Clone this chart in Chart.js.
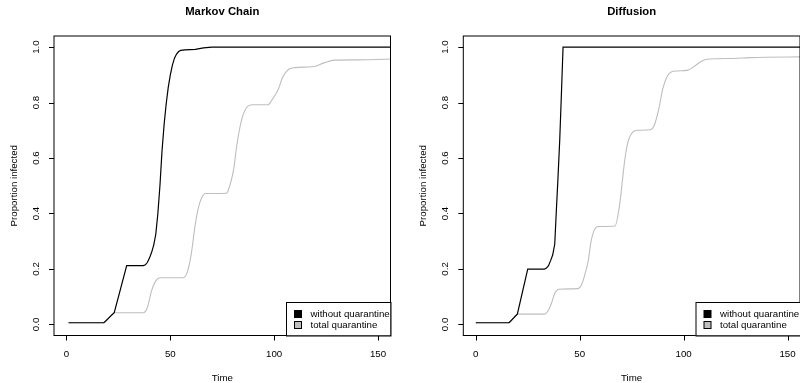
<!DOCTYPE html>
<html>
<head>
<meta charset="utf-8">
<script src="https://cdn.jsdelivr.net/npm/chart.js@4/dist/chart.umd.min.js"></script>
<style>
  html, body { margin: 0; padding: 0; background: #fff; overflow: hidden; }
  #wrap { position: relative; width: 800px; height: 383px; overflow: hidden; }
  canvas { position: absolute; top: 0; }
  #left { left: 0; }
  #right { left: 400px; }
</style>
</head>
<body>
<div id="wrap">
  <canvas id="left" width="400" height="383"></canvas>
  <canvas id="right" width="402" height="383"></canvas>
</div>
<script>
// Markov chain panel
const markovTimeWithout = [1, 18, 23, 29, 37, 38, 39, 40, 41, 42, 43, 44, 45, 46, 47, 48, 49, 50, 51, 52, 53, 54, 55, 57, 62, 66, 70, 160];
const markovWithout = [0.006, 0.006, 0.042, 0.212, 0.212, 0.215, 0.224, 0.24, 0.26, 0.286, 0.325, 0.4, 0.5, 0.625, 0.72, 0.795, 0.855, 0.9, 0.935, 0.96, 0.975, 0.984, 0.988, 0.99, 0.992, 0.997, 1.0, 1.0];
const markovTimeTotal = [1, 18, 23, 37, 39, 41, 43, 45, 56, 58, 60, 62, 63.5, 65, 67, 77, 79, 80.5, 82, 83.5, 85, 87.5, 90, 97, 99, 102, 104, 107, 110, 119, 124, 129, 140, 160];
const markovTotal = [0.006, 0.006, 0.042, 0.042, 0.062, 0.122, 0.157, 0.168, 0.168, 0.185, 0.25, 0.36, 0.42, 0.455, 0.472, 0.473, 0.51, 0.56, 0.645, 0.71, 0.755, 0.788, 0.792, 0.792, 0.81, 0.848, 0.89, 0.92, 0.926, 0.93, 0.943, 0.953, 0.954, 0.958];

// Diffusion panel
const diffusionTimeWithout = [0, 16, 20, 25, 33, 34, 35, 36, 37, 38, 38.7, 39.5, 40.4, 41.2, 42, 160];
const diffusionWithout = [0.006, 0.006, 0.037, 0.199, 0.199, 0.203, 0.212, 0.23, 0.25, 0.29, 0.4, 0.52, 0.665, 0.83, 1.0, 1.0];
const diffusionTimeTotal = [0, 16, 20, 33, 35, 36.5, 38, 40, 49, 51, 52.5, 54, 55.5, 57, 59, 67, 69, 70, 71, 72, 73.5, 75.5, 78, 84, 86, 88, 90, 92, 94, 97, 102, 105, 108, 111, 124, 132, 160];
const diffusionTotal = [0.006, 0.006, 0.037, 0.037, 0.052, 0.078, 0.112, 0.127, 0.129, 0.145, 0.18, 0.225, 0.3, 0.34, 0.353, 0.355, 0.42, 0.48, 0.55, 0.61, 0.665, 0.693, 0.7, 0.702, 0.72, 0.775, 0.85, 0.893, 0.91, 0.914, 0.917, 0.93, 0.946, 0.956, 0.959, 0.962, 0.965];

const seriesLabels = ['without quarantine', 'total quarantine'];
const seriesColors = ['#000000', '#bebebe'];
const xTicks = [0, 50, 100, 150];
const yTicks = [0, 0.2, 0.4, 0.6, 0.8, 1.0];
const yTickLabels = ['0.0', '0.2', '0.4', '0.6', '0.8', '1.0'];

const FONT = '"Liberation Sans", Arial, Helvetica, sans-serif';

function toPoints(times, vals) {
    return times.map((t, i) => ({ x: t, y: vals[i] }));
}

// R-like box, axes, titles and legend
const rStyle = {
    id: 'rStyle',
    afterDraw(chart, args, opts) {
        const ctx = chart.ctx;
        const a = chart.chartArea;
        const xs = chart.scales.x;
        const ys = chart.scales.y;
        ctx.save();
        ctx.strokeStyle = '#000';
        ctx.fillStyle = '#000';
        ctx.lineWidth = 1;

        // box
        ctx.strokeRect(a.left, a.top, a.right - a.left, a.bottom - a.top);

        // x axis
        ctx.font = '9.7px ' + FONT;
        ctx.textAlign = 'center';
        ctx.textBaseline = 'middle';
        ctx.beginPath();
        ctx.moveTo(xs.getPixelForValue(xTicks[0]), a.bottom);
        ctx.lineTo(xs.getPixelForValue(xTicks[xTicks.length - 1]), a.bottom);
        xTicks.forEach(v => {
            const px = Math.round(xs.getPixelForValue(v)) + 0.5;
            ctx.moveTo(px, a.bottom);
            ctx.lineTo(px, a.bottom + 5);
        });
        ctx.stroke();
        xTicks.forEach(v => {
            ctx.fillText(String(v), xs.getPixelForValue(v), a.bottom + 19);
        });

        // y axis
        ctx.beginPath();
        yTicks.forEach(v => {
            const py = Math.round(ys.getPixelForValue(v)) + 0.5;
            ctx.moveTo(a.left, py);
            ctx.lineTo(a.left - 5, py);
        });
        ctx.stroke();
        yTicks.forEach((v, i) => {
            ctx.save();
            ctx.translate(a.left - 17.5, ys.getPixelForValue(v));
            ctx.rotate(-Math.PI / 2);
            ctx.fillText(yTickLabels[i], 0, 0);
            ctx.restore();
        });

        // axis titles
        const cx = (a.left + a.right) / 2;
        const cy = (a.top + a.bottom) / 2;
        ctx.fillText('Time', cx, 378);
        ctx.save();
        ctx.translate(a.left - 39.5, cy);
        ctx.rotate(-Math.PI / 2);
        ctx.fillText('Proportion infected', 0, 0);
        ctx.restore();

        // main title
        ctx.font = 'bold 11.3px ' + FONT;
        ctx.fillText(opts.title, cx, 12);

        // legend, bottom right
        const lx = a.right - 104.5;
        const ly = a.bottom - 33.5;
        ctx.fillStyle = '#fff';
        ctx.fillRect(lx, ly, a.right - lx, a.bottom - ly);
        ctx.strokeRect(lx + 0.5, ly + 0.5, a.right - lx, a.bottom - ly);
        ctx.save();
        ctx.beginPath();
        ctx.rect(a.left, a.top, a.right - a.left - 0.5, a.bottom - a.top);
        ctx.clip();
        ctx.font = '9.7px ' + FONT;
        ctx.textAlign = 'left';
        seriesLabels.forEach((lab, i) => {
            const ry = ly + 12 + i * 11;
            ctx.fillStyle = seriesColors[i];
            ctx.fillRect(lx + 8.5, ry - 3.5, 7, 7);
            ctx.strokeStyle = '#000';
            ctx.strokeRect(lx + 8.5, ry - 3.5, 7, 7);
            ctx.fillStyle = '#000';
            ctx.fillText(lab, lx + 24.5, ry);
        });
        ctx.restore();
        ctx.restore();
    }
};

function makePanel(id, title, tA, vA, tB, vB, padding) {
    return new Chart(document.getElementById(id), {
        type: 'line',
        data: {
            datasets: [{
                label: seriesLabels[0],
                data: toPoints(tA, vA),
                borderColor: seriesColors[0],
                borderWidth: 1.2,
                pointRadius: 0,
                tension: 0,
                order: 0
            }, {
                label: seriesLabels[1],
                data: toPoints(tB, vB),
                borderColor: seriesColors[1],
                borderWidth: 1.1,
                pointRadius: 0,
                cubicInterpolationMode: 'monotone',
                order: 1
            }]
        },
        options: {
            responsive: false,
            animation: false,
            devicePixelRatio: 1,
            layout: { padding: padding },
            scales: {
                x: { type: 'linear', min: -6, max: 156, display: false },
                y: { min: -0.04, max: 1.04, display: false }
            },
            plugins: {
                legend: { display: false },
                tooltip: { enabled: false },
                rStyle: { title: title }
            }
        },
        plugins: [rStyle]
    });
}

makePanel('left', 'Markov Chain', markovTimeWithout, markovWithout, markovTimeTotal, markovTotal,
    { left: 54, right: 9.5, top: 36, bottom: 47.5 });
makePanel('right', 'Diffusion', diffusionTimeWithout, diffusionWithout, diffusionTimeTotal, diffusionTotal,
    { left: 63.3, right: 2, top: 36, bottom: 47.5 });
</script>
</body>
</html>
